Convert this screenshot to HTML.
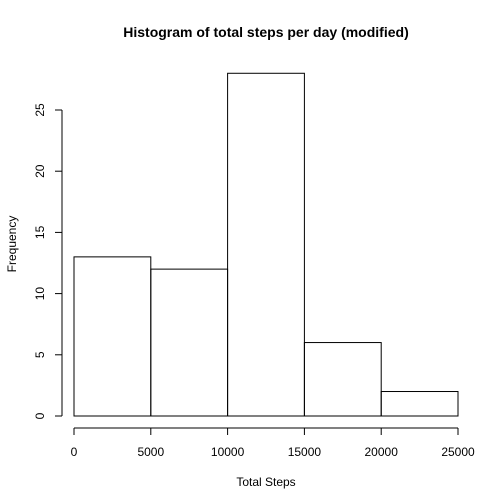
<!DOCTYPE html>
<html><head><meta charset="utf-8"><style>
html,body{margin:0;padding:0;background:#fff}
svg{display:block;font-family:"Liberation Sans",Arial,sans-serif}
</style></head><body>
<svg id="chart" width="504" height="504">
<text x="266" y="37" text-anchor="middle" font-size="14" font-weight="bold">Histogram of total steps per day (modified)</text>
<text x="266" y="486" text-anchor="middle" font-size="12">Total Steps</text>
<text transform="translate(16,244) rotate(-90)" text-anchor="middle" font-size="12">Frequency</text>
<g id="bars"></g><g id="xaxis"></g><g id="yaxis"></g>
</svg>
<script>
const binStarts=[0,5000,10000,15000,20000];
const binWidth=5000;
const counts=[13,12,28,6,2];
const xTicks=[0,5000,10000,15000,20000,25000];
const yTicks=[0,5,10,15,20,25];
const NS="http://www.w3.org/2000/svg";
function X(v){return 74+v*(384/25000);}
function Y(v){return 416-v*12.24;}
function mk(t,a,p){const e=document.createElementNS(NS,t);for(const k in a)e.setAttribute(k,a[k]);p.appendChild(e);return e;}
const bars=document.getElementById('bars');
binStarts.forEach((b,i)=>{
 const r=mk('rect',{x:X(b),y:Y(counts[i]),width:X(b+binWidth)-X(b),height:Y(0)-Y(counts[i]),fill:'none',stroke:'#000','stroke-width':1},bars);
 
 
});
const xa=document.getElementById('xaxis');
mk('line',{x1:X(xTicks[0]),x2:X(xTicks[xTicks.length-1]),y1:428,y2:428,stroke:'#000'},xa);
xTicks.forEach(t=>{
 mk('line',{x1:X(t),x2:X(t),y1:428,y2:435,stroke:'#000'},xa);
 const tx=mk('text',{x:X(t),y:456,'text-anchor':'middle','font-size':12},xa);tx.textContent=t;
 
 
});
const ya=document.getElementById('yaxis');
mk('line',{x1:62,x2:62,y1:Y(yTicks[0]),y2:Y(yTicks[yTicks.length-1]),stroke:'#000'},ya);
yTicks.forEach(t=>{
 mk('line',{x1:55,x2:62,y1:Y(t),y2:Y(t),stroke:'#000'},ya);
 const tx=mk('text',{transform:`translate(44,${Y(t)}) rotate(-90)`,'text-anchor':'middle','font-size':12},ya);tx.textContent=t;
 
 
});
</script>
</body></html>
